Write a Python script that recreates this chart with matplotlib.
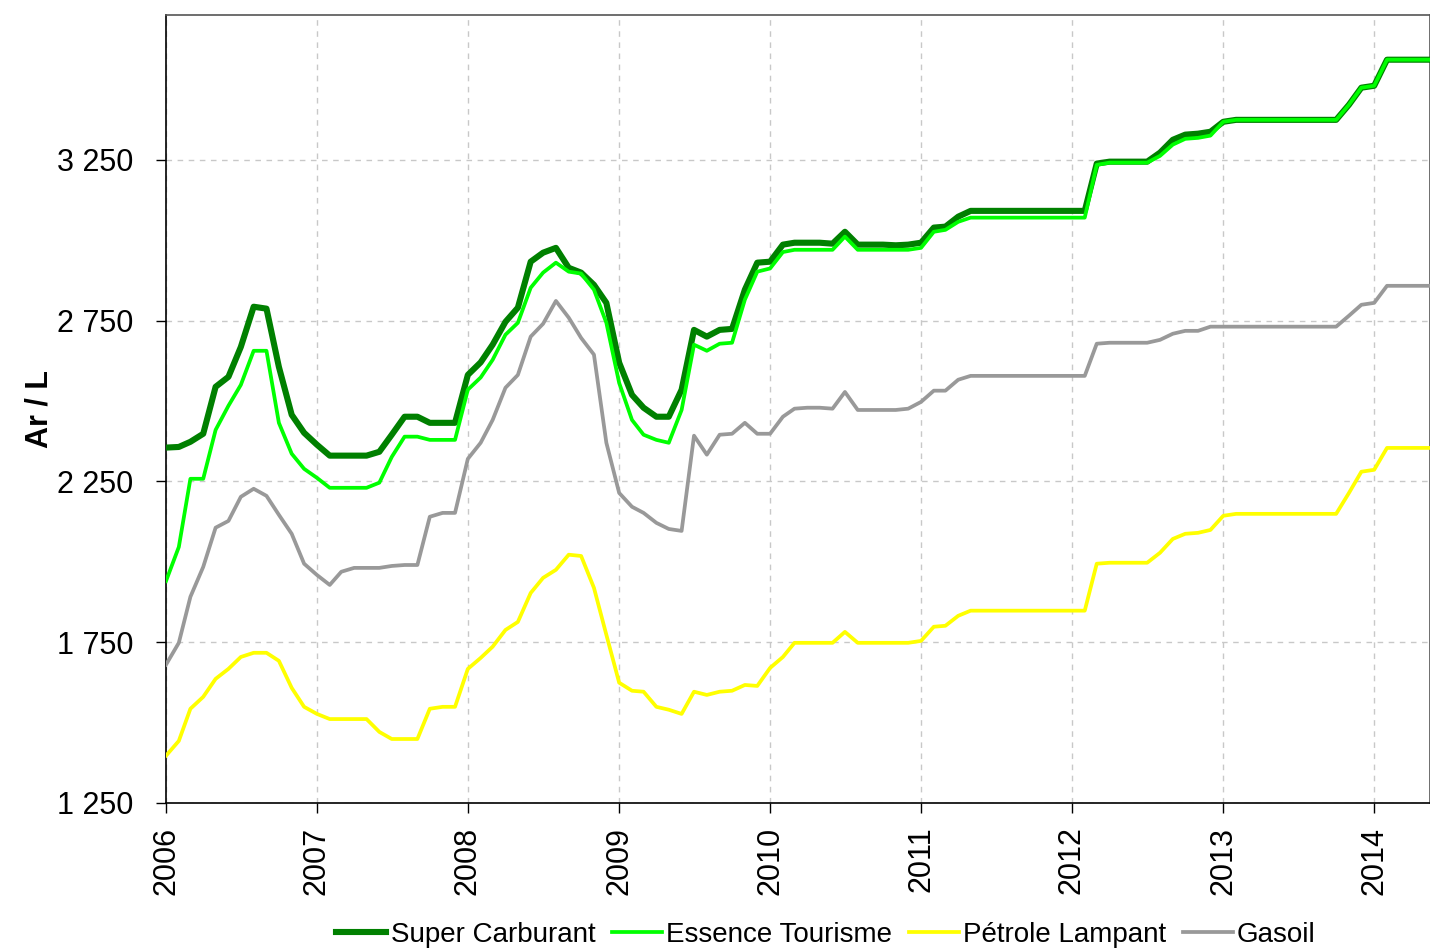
import matplotlib
matplotlib.use("Agg")
import matplotlib.pyplot as plt
import pandas as pd
import datetime as dt

plt.rcParams['font.family'] = ['Liberation Sans', 'DejaVu Sans']

months = pd.date_range('2006-01-01', periods=102, freq='MS')

super_carburant = [
    2355, 2357, 2373, 2398, 2544, 2575, 2668, 2793, 2787, 2606, 2457, 2401,
    2364, 2330, 2330, 2330, 2330, 2342, 2395, 2451, 2451, 2432, 2432, 2432,
    2581, 2620, 2675, 2746, 2790, 2933, 2961, 2976, 2914, 2899, 2861, 2805,
    2619, 2519, 2479, 2451, 2451, 2535, 2721, 2700, 2721, 2724, 2846, 2930,
    2933, 2986, 2992, 2992, 2992, 2989, 3026, 2986, 2986, 2986, 2984, 2986,
    2992, 3039, 3042, 3073, 3091, 3091, 3091, 3091, 3091, 3091, 3091, 3091,
    3091, 3091, 3238, 3244, 3244, 3244, 3244, 3272, 3312, 3328, 3331, 3337,
    3368, 3374, 3374, 3374, 3374, 3374, 3374, 3374, 3374, 3374, 3421, 3474,
    3480, 3561, 3561, 3561, 3561, 3561,
]
essence_tourisme = [
    1940, 2046, 2258, 2258, 2410, 2485, 2550, 2656, 2656, 2432, 2336, 2289,
    2261, 2230, 2230, 2230, 2230, 2246, 2326, 2389, 2389, 2379, 2379, 2379,
    2535, 2573, 2628, 2706, 2743, 2852, 2899, 2930, 2902, 2896, 2846, 2743,
    2556, 2441, 2395, 2379, 2370, 2472, 2675, 2656, 2678, 2681, 2815, 2902,
    2912, 2963, 2970, 2970, 2970, 2970, 3011, 2970, 2970, 2970, 2970, 2970,
    2976, 3026, 3032, 3057, 3070, 3070, 3070, 3070, 3070, 3070, 3070, 3070,
    3070, 3070, 3234, 3241, 3241, 3241, 3241, 3262, 3297, 3315, 3318, 3325,
    3368, 3374, 3374, 3374, 3374, 3374, 3374, 3374, 3374, 3374, 3421, 3474,
    3480, 3561, 3561, 3561, 3561, 3561,
]
petrole_lampant = [
    1397, 1443, 1543, 1580, 1636, 1667, 1704, 1717, 1717, 1692, 1608, 1549,
    1527, 1511, 1511, 1511, 1511, 1471, 1449, 1449, 1449, 1543, 1549, 1549,
    1667, 1701, 1736, 1788, 1813, 1903, 1950, 1975, 2022, 2018, 1919, 1773,
    1624, 1599, 1596, 1549, 1540, 1527, 1596, 1586, 1596, 1599, 1617, 1614,
    1670, 1704, 1748, 1748, 1748, 1748, 1782, 1748, 1748, 1748, 1748, 1748,
    1754, 1798, 1801, 1832, 1848, 1848, 1848, 1848, 1848, 1848, 1848, 1848,
    1848, 1848, 1994, 1997, 1997, 1997, 1997, 2028, 2071, 2087, 2090, 2099,
    2143, 2149, 2149, 2149, 2149, 2149, 2149, 2149, 2149, 2149, 2214, 2280,
    2286, 2354, 2354, 2354, 2354, 2354,
]
gasoil = [
    1680, 1748, 1891, 1984, 2106, 2127, 2202, 2227, 2205, 2146, 2087, 1994,
    1959, 1928, 1969, 1981, 1981, 1981, 1987, 1990, 1990, 2140, 2152, 2152,
    2320, 2370, 2441, 2541, 2581, 2700, 2740, 2811, 2759, 2696, 2644, 2370,
    2214, 2171, 2152, 2121, 2102, 2096, 2392, 2333, 2395, 2398, 2432, 2398,
    2398, 2451, 2476, 2479, 2479, 2476, 2528, 2472, 2472, 2472, 2472, 2476,
    2497, 2532, 2532, 2566, 2578, 2578, 2578, 2578, 2578, 2578, 2578, 2578,
    2578, 2578, 2678, 2681, 2681, 2681, 2681, 2690, 2709, 2718, 2718, 2731,
    2731, 2731, 2731, 2731, 2731, 2731, 2731, 2731, 2731, 2731, 2765, 2799,
    2805, 2858, 2858, 2858, 2858, 2858,
]

series_names = ['Super Carburant', 'Essence Tourisme', 'Pétrole Lampant', 'Gasoil']
y_ticks = [1250, 1750, 2250, 2750, 3250]
y_tick_labels = ['1 250', '1 750', '2 250', '2 750', '3 250']
years = list(range(2006, 2015))

fig = plt.figure(figsize=(14.30, 9.51), dpi=100)
ax = fig.add_axes([166/1430, (951-803)/951, (1430-166)/1430, (803-15)/951])

ax.plot(months, super_carburant, color='#008000', lw=4.4, label=series_names[0], zorder=3)
ax.plot(months, essence_tourisme, color='#00FF00', lw=2.7, label=series_names[1], zorder=4)
ax.plot(months, petrole_lampant, color='#FFFF00', lw=2.7, label=series_names[2], zorder=3)
ax.plot(months, gasoil, color='#999999', lw=2.7, label=series_names[3], zorder=3)

ax.set_ylim(1250, 3700)
ax.set_xlim(dt.datetime(2006, 1, 1), dt.datetime(2014, 5, 16))
ax.set_yticks(y_ticks)
ax.set_yticklabels(y_tick_labels)
ax.set_xticks([dt.datetime(y, 1, 1) for y in years])
ax.set_xticklabels([str(y) for y in years], rotation=90)
ax.tick_params(axis='both', labelsize=22, direction='out', length=7, width=1, color='black')
ax.tick_params(axis='y', pad=16.5)
ax.tick_params(axis='x', pad=10)

ax.grid(True, color='#c8c8c8', linestyle=(0, (4, 4)), linewidth=1)
ax.set_axisbelow(True)
ax.spines['left'].set_color('#000000')
ax.spines['bottom'].set_color('#000000')
ax.spines['top'].set_color('#555555')
ax.spines['right'].set_color('#555555')
for s in ax.spines.values():
    s.set_linewidth(1.2)

ax.set_ylabel('Ar / L', fontsize=22, fontweight='bold', labelpad=2)

fig.legend(loc='center', bbox_to_anchor=(826/1430, 1 - 935/951), ncol=4, frameon=False,
           fontsize=20, handlelength=1.8, handletextpad=0.15, columnspacing=0.6,
           borderaxespad=0, borderpad=0)

fig.savefig('out.png', dpi=100)
